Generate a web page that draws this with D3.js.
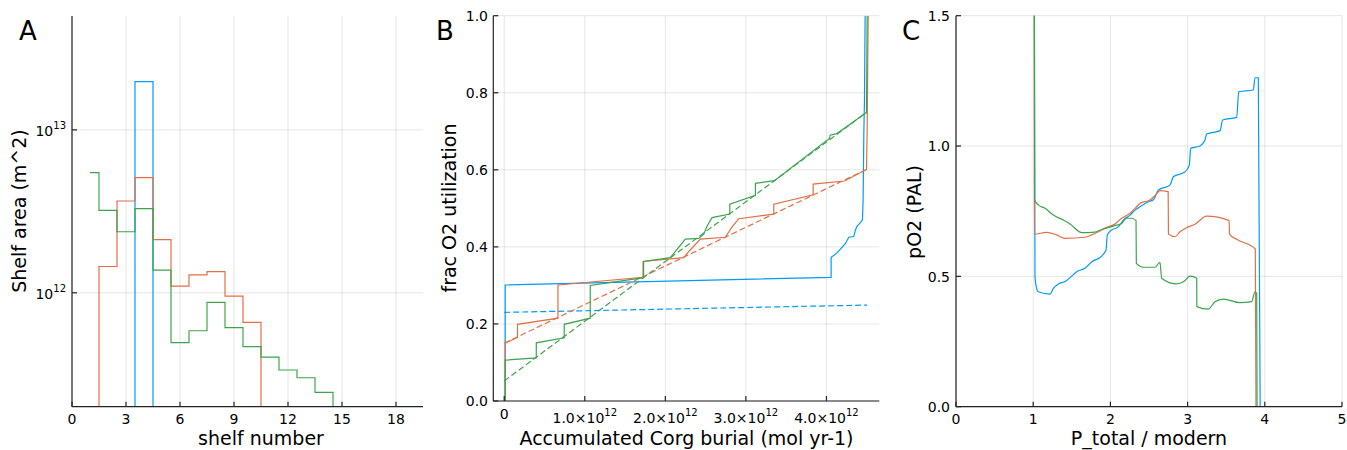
<!DOCTYPE html>
<html>
<head>
<meta charset="utf-8">
<script src="https://cdn.jsdelivr.net/npm/d3@7"></script>
<style>
  body { margin: 0; background: #fff; }
  svg text { font-family: "DejaVu Sans", sans-serif; fill: #000; }
</style>
</head>
<body>
<svg id="chart" width="1347" height="450"></svg>
<script>
// series colours (Julia default palette)
const blue = '#009af9', orange = '#e26f46', green = '#3da44d';

// ---- A: shelf area per shelf number (m^2), 0 = no shelf ----
const shelfNumbers = d3.range(1, 20);
const areaBlue   = [0, 0, 0, 1.98e13, 0, 0, 0, 0, 0, 0, 0, 0, 0, 0, 0, 0, 0, 0, 0];
const areaOrange = [0, 1.45e12, 3.66e12, 5.10e12, 2.12e12, 1.10e12, 1.29e12, 1.35e12, 9.54e11, 6.58e11, 0, 0, 0, 0, 0, 0, 0, 0, 0];
const areaGreen  = [5.47e12, 3.21e12, 2.37e12, 3.29e12, 1.38e12, 4.95e11, 5.85e11, 8.73e11, 6.12e11, 4.67e11, 4.03e11, 3.36e11, 3.01e11, 2.45e11, 0, 0, 0, 0, 0];
const shelfTicks = [0, 3, 6, 9, 12, 15, 18];
const areaTicks = [1e12, 1e13];

// ---- B: accumulated Corg burial (10^12 mol yr-1) vs frac O2 utilization ----
const burialBlue = [[0.012, 0], [0.012, 0.301], [4.058, 0.321], [4.058, 0.373], [4.08, 0.376], [4.133, 0.385],
  [4.174, 0.394], [4.236, 0.409], [4.277, 0.425], [4.339, 0.427], [4.36, 0.444], [4.38, 0.454], [4.422, 0.463],
  [4.447, 0.470], [4.455, 0.522], [4.464, 0.695], [4.472, 0.78], [4.48, 1.0]];
const burialBlueFit = [[0, 0.230], [4.505, 0.249]];
const burialOrange = [[0.012, 0], [0.012, 0.150], [0.165, 0.165], [0.165, 0.199], [0.667, 0.215], [0.667, 0.301],
  [1.723, 0.321], [1.723, 0.362], [2.228, 0.372], [2.30, 0.39], [2.435, 0.42], [2.745, 0.425], [2.828, 0.452],
  [2.911, 0.473], [3.346, 0.485], [3.346, 0.511], [3.835, 0.535], [3.835, 0.563], [4.224, 0.571], [4.497, 0.601],
  [4.505, 0.699], [4.518, 1.0]];
const burialOrangeFit = [[0, 0.150], [4.497, 0.601]];
const burialGreen = [[0.012, 0], [0.012, 0.106], [0.398, 0.112], [0.398, 0.151], [0.745, 0.164], [0.745, 0.199],
  [1.068, 0.215], [1.068, 0.300], [1.73, 0.320], [1.73, 0.362], [2.062, 0.372], [2.248, 0.42], [2.414, 0.422],
  [2.476, 0.433], [2.525, 0.457], [2.58, 0.476], [2.8, 0.485], [2.8, 0.511], [3.118, 0.534], [3.118, 0.565],
  [3.354, 0.572], [4.04, 0.682], [4.045, 0.690], [4.13, 0.694], [4.497, 0.749], [4.505, 1.0]];
const burialGreenFit = [[0, 0.052], [4.497, 0.749]];
const burialTicks = [0, 1, 2, 3, 4];
const fracTicks = [0, 0.2, 0.4, 0.6, 0.8, 1.0];

// ---- C: P_total / modern vs pO2 (PAL) ----
const po2Blue = [[1.015, 1.6], [1.023, 0.499], [1.04, 0.46], [1.066, 0.441], [1.218, 0.432], [1.261, 0.454], [1.326, 0.471],
  [1.412, 0.480], [1.499, 0.501], [1.563, 0.518], [1.671, 0.531], [1.758, 0.556], [1.887, 0.578], [1.943, 0.601],
  [1.96, 0.659], [2.017, 0.678], [2.103, 0.690], [2.168, 0.716], [2.254, 0.735], [2.319, 0.754], [2.383, 0.767],
  [2.491, 0.786], [2.56, 0.795], [2.621, 0.831], [2.772, 0.850], [2.815, 0.882], [2.966, 0.901], [3.022, 0.927],
  [3.04, 0.991], [3.161, 1.0], [3.225, 1.023], [3.247, 1.046], [3.42, 1.059], [3.454, 1.1], [3.636, 1.11],
  [3.662, 1.208], [3.851, 1.215], [3.873, 1.262], [3.916, 1.262], [3.94, 0]];
const po2Orange = [[1.014, 1.6], [1.016, 0.662], [1.174, 0.669], [1.304, 0.659], [1.412, 0.646], [1.671, 0.650],
  [1.758, 0.659], [1.844, 0.671], [1.952, 0.688], [2.06, 0.701], [2.146, 0.723], [2.254, 0.742], [2.34, 0.767],
  [2.383, 0.780], [2.513, 0.793], [2.58, 0.81], [2.642, 0.829], [2.748, 0.825], [2.752, 0.662], [2.837, 0.652],
  [2.902, 0.671], [2.988, 0.687], [3.096, 0.700], [3.247, 0.731], [3.538, 0.714], [3.542, 0.662], [3.636, 0.642],
  [3.877, 0.605], [3.886, 0]];
const po2Green = [[1.015, 1.6], [1.019, 0.793], [1.066, 0.774], [1.153, 0.761], [1.261, 0.735], [1.39, 0.716],
  [1.477, 0.701], [1.628, 0.668], [1.801, 0.670], [1.887, 0.680], [2.038, 0.693], [2.146, 0.703], [2.211, 0.723],
  [2.276, 0.723], [2.332, 0.714], [2.336, 0.550], [2.427, 0.535], [2.578, 0.535], [2.642, 0.554], [2.664, 0.493],
  [2.858, 0.471], [2.95, 0.48], [3.031, 0.501], [3.118, 0.493], [3.12, 0.384], [3.268, 0.374], [3.355, 0.403],
  [3.463, 0.413], [3.679, 0.399], [3.830, 0.403], [3.873, 0.441], [3.895, 0.435], [3.9, 0]];
const ptotTicks = [0, 1, 2, 3, 4, 5];
const po2Ticks = [0, 0.5, 1.0, 1.5];

const svg = d3.select('#chart');
const TICK = 14, SUP = 10;

/**
 * sets up one panel: clip, grid, and the groups for series and axes
 */
function makePanel(id, x, y, xticks, yticks) {
  const g = svg.append('g');
  const [x0, x1] = x.range(), [y0, y1] = y.range();
  g.append('clipPath').attr('id', id).append('rect')
    .attr('x', x0).attr('y', y1).attr('width', x1 - x0).attr('height', y0 - y1);

  const grid = g.append('g').attr('stroke', '#000').attr('stroke-opacity', 0.1).attr('stroke-width', 1);
  grid.selectAll('.gx').data(xticks).join('line')
    .attr('x1', d => x(d)).attr('x2', d => x(d)).attr('y1', y0).attr('y2', y1);
  grid.selectAll('.gy').data(yticks).join('line')
    .attr('y1', d => y(d)).attr('y2', d => y(d)).attr('x1', x0).attr('x2', x1);

  const lines = g.append('g').attr('clip-path', `url(#${id})`).attr('fill', 'none');
  const axes = g.append('g');
  return { g, lines, axes, x0, x1, y0, y1 };
}

/**
 * axis lines + inward tick marks, drawn on top of the series
 */
function drawAxes(p, x, y, xticks, yticks) {
  const a = p.axes.attr('stroke', '#222').attr('stroke-width', 1.2);
  a.append('line').attr('x1', p.x0).attr('x2', p.x1).attr('y1', p.y0).attr('y2', p.y0);
  a.append('line').attr('x1', p.x0).attr('x2', p.x0).attr('y1', p.y0).attr('y2', p.y1);
  a.selectAll('.tx').data(xticks).join('line')
    .attr('x1', d => x(d)).attr('x2', d => x(d)).attr('y1', p.y0).attr('y2', p.y0 - 5);
  a.selectAll('.ty').data(yticks).join('line')
    .attr('y1', d => y(d)).attr('y2', d => y(d)).attr('x1', p.x0).attr('x2', p.x0 + 5);
}

// text made of [string, isSuperscript] parts
function richText(sel, parts) {
  let up = false;
  parts.forEach(([t, sup]) => {
    const ts = sel.append('tspan').text(t).attr('font-size', sup ? SUP : TICK);
    if (sup && !up) { ts.attr('dy', -7); up = true; }
    else if (!sup && up) { ts.attr('dy', 7); up = false; }
  });
}

function guideLabels(p, xlab, xlabX, ylab, ylabX, ylabY, letter, letterX) {
  p.g.append('text').attr('x', xlabX).attr('y', 445).attr('text-anchor', 'middle')
    .attr('font-size', 19).text(xlab);
  p.g.append('text').attr('transform', `translate(${ylabX},${ylabY}) rotate(-90)`)
    .attr('text-anchor', 'middle').attr('font-size', 19).text(ylab);
  p.g.append('text').attr('x', letterX).attr('y', 40).attr('font-size', 26).text(letter);
}

// ================= A =================
const xA = d3.scaleLinear().domain([0, 19.5]).range([72, 423]);
const yA = d3.scaleLog().domain([2e11, 5e13]).range([406.7, 16]);
const pA = makePanel('clipA', xA, yA, shelfTicks, areaTicks);

// stepmid: change level half-way between shelf numbers
function stepMid(xs, ys) {
  const floor = v => (v > 0 ? v : 1e11);
  let pts = [[xs[0], floor(ys[0])]];
  for (let i = 1; i < xs.length; i++) {
    const m = (xs[i - 1] + xs[i]) / 2;
    pts.push([m, floor(ys[i - 1])], [m, floor(ys[i])]);
  }
  pts.push([xs[xs.length - 1], floor(ys[ys.length - 1])]);
  return pts;
}
const lineA = d3.line().x(d => xA(d[0])).y(d => yA(d[1]));
[[areaBlue, blue], [areaOrange, orange], [areaGreen, green]].forEach(([vals, col]) => {
  pA.lines.append('path').attr('d', lineA(stepMid(shelfNumbers, vals)))
    .attr('stroke', col).attr('stroke-width', 1.2);
});
drawAxes(pA, xA, yA, shelfTicks, areaTicks);
pA.g.selectAll('.xl').data(shelfTicks).join('text')
  .attr('x', d => xA(d)).attr('y', 423.5).attr('text-anchor', 'middle').attr('font-size', TICK).text(d => d);
pA.g.selectAll('.yl').data(areaTicks).join('text')
  .attr('x', 66).attr('y', d => yA(d) + 6).attr('text-anchor', 'end')
  .each(function (d) { richText(d3.select(this), [['10', false], [String(Math.log10(d)), true]]); });
guideLabels(pA, 'shelf number', 261, 'Shelf area (m^2)', 25.7, 211, 'A', 19);

// ================= B =================
const xB = d3.scaleLinear().domain([-0.1356, 4.656]).range([493.3, 879.3]);
const yB = d3.scaleLinear().domain([0, 1]).range([401, 15.7]);
const pB = makePanel('clipB', xB, yB, burialTicks, fracTicks);
const lineB = d3.line().x(d => xB(d[0])).y(d => yB(d[1]));
[[burialBlue, burialBlueFit, blue], [burialOrange, burialOrangeFit, orange], [burialGreen, burialGreenFit, green]]
  .forEach(([solid, fit, col]) => {
    pB.lines.append('path').attr('d', lineB(fit)).attr('stroke', col)
      .attr('stroke-width', 1.2).attr('stroke-dasharray', '6,3');
    pB.lines.append('path').attr('d', lineB(solid)).attr('stroke', col).attr('stroke-width', 1.2);
  });
drawAxes(pB, xB, yB, burialTicks, fracTicks);
pB.g.selectAll('.xl').data(burialTicks).join('text')
  .attr('x', d => xB(d)).attr('y', d => d === 0 ? 418.5 : 422.7).attr('text-anchor', 'middle')
  .each(function (d) {
    if (d === 0) richText(d3.select(this), [['0', false]]);
    else richText(d3.select(this), [[d.toFixed(1) + '×10', false], ['12', true]]);
  });
pB.g.selectAll('.yl').data(fracTicks).join('text')
  .attr('x', 488).attr('y', d => yB(d) + 5.3).attr('text-anchor', 'end')
  .attr('font-size', TICK).text(d => d.toFixed(1));
guideLabels(pB, 'Accumulated Corg burial (mol yr-1)', 686.5, 'frac O2 utilization', 456, 208, 'B', 436);

// ================= C =================
const xC = d3.scaleLinear().domain([0, 5]).range([956, 1342]);
const yC = d3.scaleLinear().domain([0, 1.5]).range([406.7, 15.7]);
const pC = makePanel('clipC', xC, yC, ptotTicks, po2Ticks);
// monotone in x keeps the wiggles smooth without overshooting the drops
const lineC = d3.line().x(d => xC(d[0])).y(d => yC(d[1])).curve(d3.curveMonotoneX);
[[po2Blue, blue], [po2Orange, orange], [po2Green, green]].forEach(([pts, col]) => {
  pC.lines.append('path').attr('d', lineC(pts)).attr('stroke', col).attr('stroke-width', 1.2);
});
drawAxes(pC, xC, yC, ptotTicks, po2Ticks);
pC.g.selectAll('.xl').data(ptotTicks).join('text')
  .attr('x', d => xC(d)).attr('y', 423.5).attr('text-anchor', 'middle').attr('font-size', TICK).text(d => d);
pC.g.selectAll('.yl').data(po2Ticks).join('text')
  .attr('x', 950).attr('y', d => yC(d) + 5.3).attr('text-anchor', 'end')
  .attr('font-size', TICK).text(d => d.toFixed(1));
guideLabels(pC, 'P_total / modern', 1149, 'pO2 (PAL)', 920.5, 212, 'C', 902);
</script>
</body>
</html>
